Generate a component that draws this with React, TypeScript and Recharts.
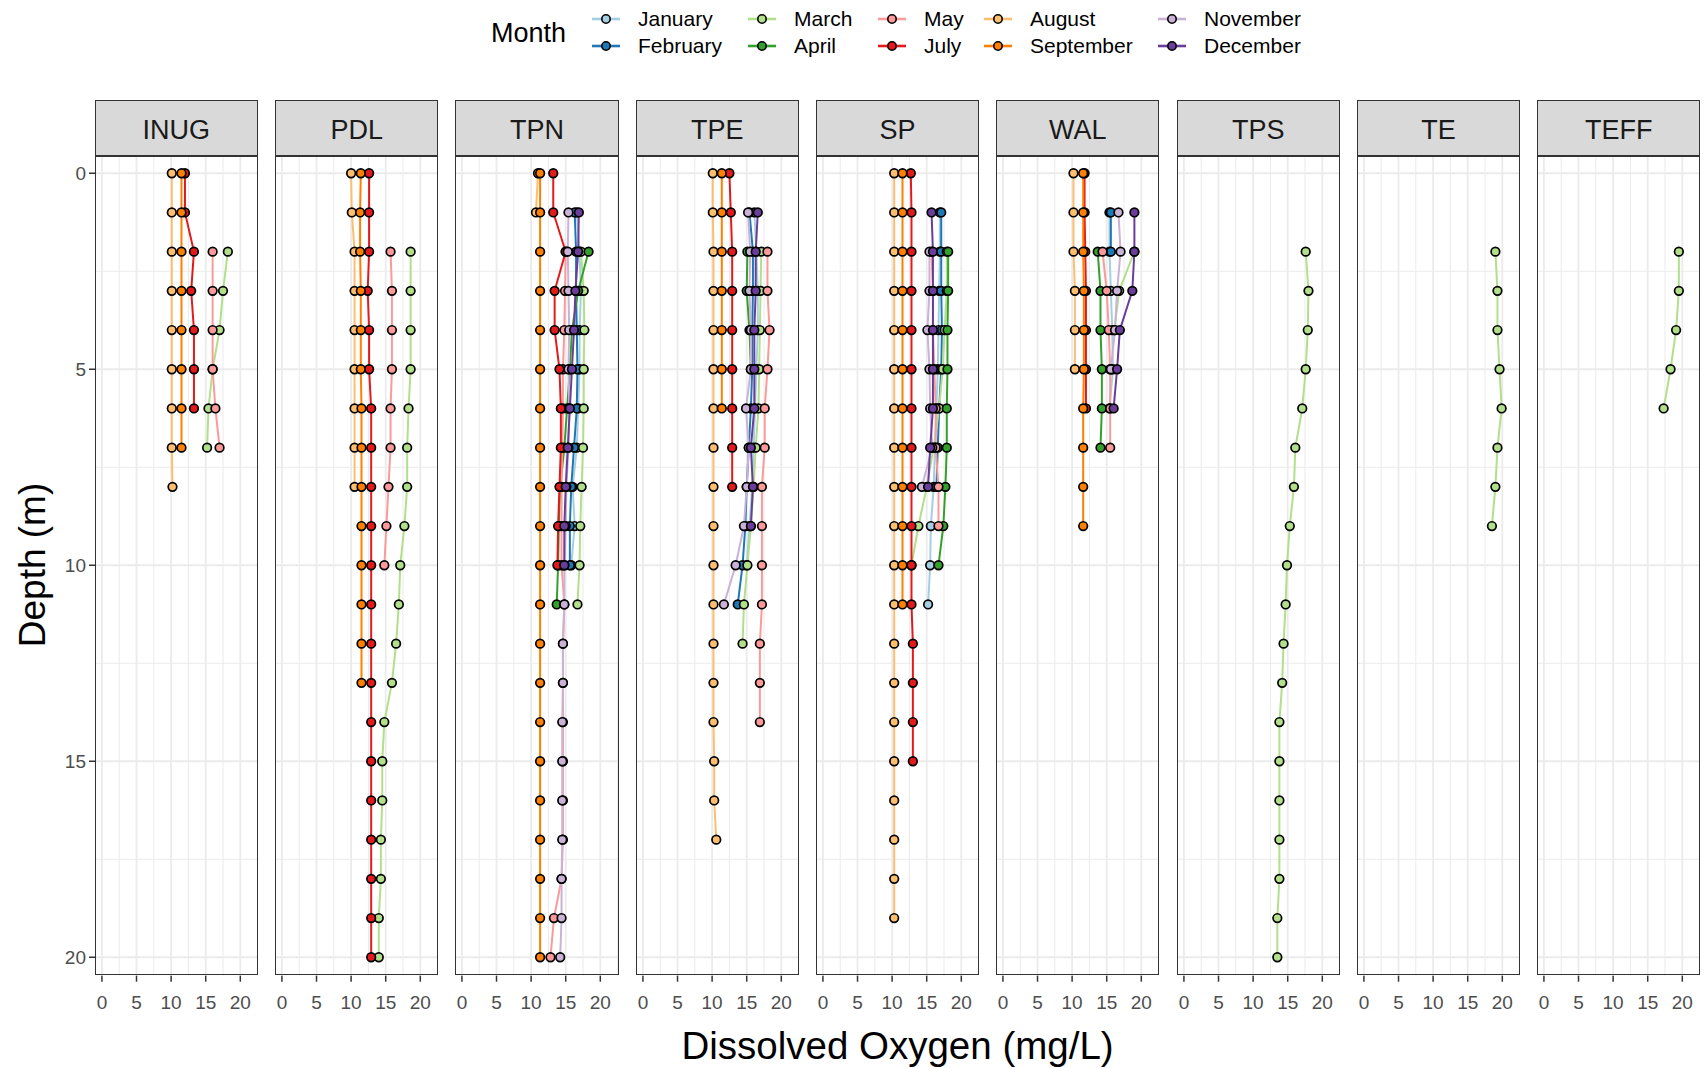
import React from "react";
import { ScatterChart, Scatter, XAxis, YAxis, ReferenceLine } from "recharts";

type Profile = { month: string; top: number; oxygen: number[] };

// months shown in the legend, in plotting order
const MONTHS = ["January", "February", "March", "April", "May", "July", "August", "September", "November", "December"];

const MONTH_COLORS: Record<string, string> = {
  January: "#A6CEE3",
  February: "#1F78B4",
  March: "#B2DF8A",
  April: "#33A02C",
  May: "#FB9A99",
  July: "#E31A1C",
  August: "#FDBF6F",
  September: "#FF7F00",
  November: "#CAB2D6",
  December: "#6A3D9A",
};

// dissolved oxygen (mg/L) per 1 m step, starting at depth `top`
const INUG: Profile[] = [
  { month: "March", top: 2, oxygen: [18.2, 17.5, 17.0, 16.0, 15.4, 15.2] },
  { month: "May", top: 2, oxygen: [16.0, 16.0, 16.0, 16.0, 16.4, 17.0] },
  { month: "July", top: 0, oxygen: [12.0, 12.0, 13.3, 12.9, 13.3, 13.3, 13.3] },
  { month: "August", top: 0, oxygen: [10.1, 10.1, 10.1, 10.1, 10.1, 10.1, 10.1, 10.1, 10.2] },
  { month: "September", top: 0, oxygen: [11.5, 11.5, 11.5, 11.5, 11.5, 11.5, 11.5, 11.5] },
];

const PDL: Profile[] = [
  { month: "March", top: 2, oxygen: [18.6, 18.6, 18.6, 18.6, 18.3, 18.1, 18.1, 17.7, 17.1, 16.9, 16.5, 15.9, 14.8, 14.5, 14.5, 14.3, 14.3, 14.0, 14.0] },
  { month: "May", top: 2, oxygen: [15.7, 15.9, 15.9, 15.9, 15.7, 15.7, 15.4, 15.1, 14.8] },
  { month: "July", top: 0, oxygen: [12.6, 12.6, 12.6, 12.4, 12.6, 12.6, 12.9, 12.9, 12.9, 12.9, 12.9, 12.9, 12.9, 12.9, 12.9, 12.9, 12.9, 12.9, 12.9, 12.9, 12.9] },
  { month: "August", top: 0, oxygen: [10.0, 10.1, 10.5, 10.5, 10.5, 10.5, 10.5, 10.5, 10.5] },
  { month: "September", top: 0, oxygen: [11.4, 11.3, 11.3, 11.4, 11.4, 11.4, 11.5, 11.5, 11.5, 11.5, 11.5, 11.5, 11.5, 11.5] },
];

const TPN: Profile[] = [
  { month: "January", top: 1, oxygen: [16.6, 17.0, 17.2, 17.0, 17.0, 16.8, 16.6, 16.0, 16.3, 15.8] },
  { month: "February", top: 1, oxygen: [16.3, 16.5, 16.5, 16.6, 16.7, 16.6, 16.2, 15.8, 15.6, 15.6] },
  { month: "March", top: 2, oxygen: [17.2, 17.6, 17.7, 17.6, 17.6, 17.5, 17.3, 17.1, 17.0, 16.7] },
  { month: "April", top: 2, oxygen: [18.3, 16.8, 15.9, 15.6, 15.2, 14.8, 14.2, 14.0, 13.9, 13.7] },
  { month: "May", top: 2, oxygen: [15.0, 14.9, 14.8, 14.6, 14.6, 14.5, 14.4, 14.4, 14.4, 14.8, 14.6, 14.6, 14.6, 14.6, 14.6, 14.6, 14.4, 13.3, 12.8] },
  { month: "July", top: 0, oxygen: [13.2, 13.2, 15.0, 13.4, 13.4, 14.1, 14.3, 14.3, 14.1, 13.9, 13.8] },
  { month: "August", top: 0, oxygen: [11.0, 10.7] },
  { month: "September", top: 0, oxygen: [11.3, 11.3, 11.3, 11.3, 11.3, 11.3, 11.3, 11.3, 11.3, 11.3, 11.3, 11.3, 11.3, 11.3, 11.3, 11.3, 11.3, 11.3, 11.3, 11.3, 11.3] },
  { month: "November", top: 1, oxygen: [15.4, 15.3, 15.4, 15.5, 15.4, 15.5, 15.4, 15.1, 15.0, 14.8, 14.8, 14.6, 14.6, 14.5, 14.5, 14.5, 14.5, 14.4, 14.4, 14.2] },
  { month: "December", top: 1, oxygen: [16.9, 16.8, 16.4, 16.2, 15.9, 15.6, 15.3, 15.0, 14.8, 14.8] },
];

const TPE: Profile[] = [
  { month: "January", top: 1, oxygen: [16.1, 16.4, 16.6, 16.6, 16.4, 16.2, 16.0, 15.8, 15.4, 15.0] },
  { month: "February", top: 1, oxygen: [15.4, 15.9, 15.9, 15.8, 15.8, 15.6, 15.3, 15.0, 14.8, 14.4, 13.7] },
  { month: "March", top: 2, oxygen: [17.1, 17.0, 16.9, 16.8, 16.7, 16.3, 16.0, 15.6, 15.1, 14.6, 14.4] },
  { month: "April", top: 2, oxygen: [15.1, 15.0, 15.4, 15.6] },
  { month: "May", top: 2, oxygen: [18.0, 18.0, 18.3, 18.0, 17.6, 17.6, 17.2, 17.2, 17.2, 17.2, 16.9, 16.9, 16.9] },
  { month: "July", top: 0, oxygen: [12.5, 12.7, 12.9, 12.9, 12.9, 12.9, 12.9, 12.9, 12.9] },
  { month: "August", top: 0, oxygen: [10.1, 10.1, 10.2, 10.2, 10.2, 10.2, 10.2, 10.2, 10.2, 10.2, 10.2, 10.2, 10.2, 10.2, 10.2, 10.3, 10.3, 10.6] },
  { month: "September", top: 0, oxygen: [11.4, 11.4, 11.4, 11.4, 11.4, 11.4, 11.4] },
  { month: "November", top: 1, oxygen: [15.2, 15.5, 15.4, 15.6, 15.6, 14.9, 15.3, 15.0, 14.6, 13.4, 11.7] },
  { month: "December", top: 1, oxygen: [16.6, 16.3, 16.3, 16.1, 16.1, 16.1, 15.6, 15.9, 15.6] },
];

const SP: Profile[] = [
  { month: "January", top: 1, oxygen: [16.9, 16.9, 16.8, 16.7, 16.6, 16.4, 16.2, 16.0, 15.6, 15.5, 15.2] },
  { month: "February", top: 1, oxygen: [17.1, 17.1, 17.1, 17.2, 17.1, 16.8, 16.6, 16.4] },
  { month: "March", top: 2, oxygen: [17.9, 17.9, 17.6, 17.3, 16.8, 16.0, 15.0, 13.8, 12.8] },
  { month: "April", top: 2, oxygen: [18.1, 18.1, 18.0, 18.0, 17.9, 17.9, 17.7, 17.4, 16.7] },
  { month: "May", top: 2, oxygen: [15.7, 15.9, 15.9, 16.1, 16.3, 16.3, 16.7, 16.7] },
  { month: "July", top: 0, oxygen: [12.7, 12.8, 12.8, 12.8, 12.8, 12.8, 12.8, 12.8, 12.8, 12.8, 12.8, 12.8, 13.0, 13.0, 13.0, 13.0] },
  { month: "August", top: 0, oxygen: [10.3, 10.3, 10.3, 10.3, 10.3, 10.3, 10.3, 10.3, 10.3, 10.3, 10.3, 10.3, 10.3, 10.3, 10.3, 10.3, 10.3, 10.3, 10.3, 10.3] },
  { month: "September", top: 0, oxygen: [11.5, 11.5, 11.5, 11.5, 11.5, 11.5, 11.5, 11.5, 11.5, 11.5, 11.5, 11.5] },
  { month: "November", top: 2, oxygen: [15.4, 15.4, 15.1, 15.4, 15.5, 15.8, 14.3] },
  { month: "December", top: 1, oxygen: [15.7, 15.9, 15.9, 15.9, 15.9, 15.9, 15.5, 15.2] },
];

const WAL: Profile[] = [
  { month: "January", top: 1, oxygen: [15.4, 15.4, 15.6, 15.8, 15.9, 15.4] },
  { month: "February", top: 1, oxygen: [15.6, 15.6] },
  { month: "March", top: 2, oxygen: [19.0, 16.8, 16.1] },
  { month: "April", top: 2, oxygen: [13.7, 14.1, 14.1, 14.3, 14.3, 14.1] },
  { month: "May", top: 2, oxygen: [14.4, 15.0, 15.3, 15.5, 15.5, 15.5] },
  { month: "July", top: 0, oxygen: [11.8, 11.8, 11.9, 12.0, 12.0, 12.0, 12.0] },
  { month: "August", top: 0, oxygen: [10.2, 10.2, 10.2, 10.4, 10.4, 10.4] },
  { month: "September", top: 0, oxygen: [11.6, 11.6, 11.6, 11.7, 11.7, 11.7, 11.6, 11.6, 11.6, 11.6] },
  { month: "November", top: 1, oxygen: [16.7, 17.0, 16.5, 16.2, 15.6] },
  { month: "December", top: 1, oxygen: [19.0, 19.0, 18.7, 16.9, 16.5, 16.0] },
];

const TPS: Profile[] = [
  { month: "March", top: 2, oxygen: [17.6, 18.0, 17.9, 17.6, 17.1, 16.1, 15.9, 15.3, 14.9, 14.7, 14.4, 14.2, 13.8, 13.8, 13.8, 13.8, 13.8, 13.5, 13.5] },
];

const TE: Profile[] = [
  { month: "March", top: 2, oxygen: [19.0, 19.3, 19.3, 19.6, 19.9, 19.3, 19.0, 18.5] },
];

const TEFF: Profile[] = [
  { month: "March", top: 2, oxygen: [19.5, 19.5, 19.1, 18.3, 17.3] },
];

const SITE_NAMES = ["INUG", "PDL", "TPN", "TPE", "SP", "WAL", "TPS", "TE", "TEFF"];
const SITE_PROFILES = [INUG, PDL, TPN, TPE, SP, WAL, TPS, TE, TEFF];

const X_TICKS = [0, 5, 10, 15, 20];
const X_MINOR = [2.5, 7.5, 12.5, 17.5, 22.5];
const Y_TICKS = [0, 5, 10, 15, 20];
const Y_MINOR = [2.5, 7.5, 12.5, 17.5];

const X_DOMAIN = [-1.0, 22.6];
const Y_DOMAIN = [-0.44, 20.47];

const FONT = '"Liberation Sans", Arial, sans-serif';
const PANEL_LEFT = 94.7;
const PANEL_STEP = 180.3;
const PANEL_W = 163.3;
const STRIP_TOP = 100;
const PLOT_TOP = 155.7;
const PLOT_H = 819.7;
const Y_AXIS_W = 60;

const toPoints = (p: Profile) => p.oxygen.map((v, k) => ({ depth: p.top + k, oxygen: v }));

const NoDot = () => <g />;

const makeDot = (color: string) => (props: any) => (
  <circle cx={props.cx} cy={props.cy} r={4.3} fill={color} stroke="#000" strokeWidth={1.7} />
);

const Panel = ({ index }: { index: number }) => {
  const profiles = SITE_PROFILES[index];
  const yw = index === 0 ? Y_AXIS_W : 0;
  const left = PANEL_LEFT + index * PANEL_STEP;
  return (
    <>
      <div
        style={{
          position: "absolute",
          left,
          top: STRIP_TOP,
          width: PANEL_W,
          height: PLOT_TOP - STRIP_TOP,
          boxSizing: "border-box",
          background: "#D9D9D9",
          border: "1.5px solid #333",
          display: "flex",
          alignItems: "center",
          justifyContent: "center",
          paddingTop: 6,
          fontSize: 27,
          color: "#1A1A1A",
        }}
      >
        {SITE_NAMES[index]}
      </div>
      <div style={{ position: "absolute", left: left - yw, top: PLOT_TOP }}>
        <ScatterChart width={PANEL_W + yw} height={PLOT_H + 50} margin={{ top: 0, right: 0, bottom: 0, left: 0 }}>
          <XAxis
            type="number"
            dataKey="oxygen"
            domain={X_DOMAIN}
            allowDataOverflow
            ticks={X_TICKS}
            interval={0}
            axisLine={false}
            tickSize={6}
            tickMargin={14}
            tickLine={{ stroke: "#333", strokeWidth: 1.5 }}
            tick={{ fill: "#4D4D4D", fontSize: 19, fontFamily: FONT }}
            height={50}
          />
          <YAxis
            type="number"
            dataKey="depth"
            domain={Y_DOMAIN}
            reversed
            allowDataOverflow
            ticks={Y_TICKS}
            interval={0}
            hide={index !== 0}
            width={yw}
            axisLine={false}
            tickSize={6}
            tickMargin={3}
            tickLine={{ stroke: "#333", strokeWidth: 1.5 }}
            tick={{ fill: "#4D4D4D", fontSize: 19, fontFamily: FONT }}
          />
          {Y_MINOR.map((v) => (
            <ReferenceLine key={"ym" + v} y={v} stroke="#EBEBEB" strokeWidth={1} />
          ))}
          {X_MINOR.map((v) => (
            <ReferenceLine key={"xm" + v} x={v} stroke="#EBEBEB" strokeWidth={1} />
          ))}
          {Y_TICKS.map((v) => (
            <ReferenceLine key={"yM" + v} y={v} stroke="#EBEBEB" strokeWidth={1.8} />
          ))}
          {X_TICKS.map((v) => (
            <ReferenceLine key={"xM" + v} x={v} stroke="#EBEBEB" strokeWidth={1.8} />
          ))}
          {profiles.map((p) => (
            <Scatter
              key={"l" + p.month}
              data={toPoints(p)}
              fill={MONTH_COLORS[p.month]}
              line={{ stroke: MONTH_COLORS[p.month], strokeWidth: 2 }}
              shape={NoDot}
              isAnimationActive={false}
            />
          ))}
          {profiles.map((p) => (
            <Scatter
              key={"p" + p.month}
              data={toPoints(p)}
              fill={MONTH_COLORS[p.month]}
              shape={makeDot(MONTH_COLORS[p.month])}
              isAnimationActive={false}
            />
          ))}
        </ScatterChart>
      </div>
      <div
        style={{
          position: "absolute",
          left,
          top: PLOT_TOP,
          width: PANEL_W,
          height: PLOT_H,
          boxSizing: "border-box",
          border: "1.5px solid #333",
          pointerEvents: "none",
        }}
      />
    </>
  );
};

// legend: two rows, filled column by column
const LEGEND_KEY_X = [606, 762, 892, 998, 1172];
const LEGEND_ROW_Y = [18.5, 45.7];

const Legend = () => (
  <>
    <div style={{ position: "absolute", left: 491, top: 32.7, transform: "translateY(-50%)", fontSize: 27 }}>Month</div>
    {MONTHS.map((m, i) => {
      const col = Math.floor(i / 2);
      const row = i % 2;
      const cx = LEGEND_KEY_X[col];
      const cy = LEGEND_ROW_Y[row];
      return (
        <React.Fragment key={m}>
          <svg style={{ position: "absolute", left: cx - 15, top: cy - 8 }} width={30} height={16}>
            <line x1={1} y1={8} x2={29} y2={8} stroke={MONTH_COLORS[m]} strokeWidth={2.6} />
            <circle cx={15} cy={8} r={4.2} fill={MONTH_COLORS[m]} stroke="#000" strokeWidth={1.6} />
          </svg>
          <div style={{ position: "absolute", left: cx + 32, top: cy, transform: "translateY(-50%)", fontSize: 21, whiteSpace: "nowrap" }}>
            {m}
          </div>
        </React.Fragment>
      );
    })}
  </>
);

export default function App() {
  return (
    <div
      style={{
        position: "absolute",
        left: 0,
        top: 0,
        width: 1707,
        height: 1068,
        background: "#fff",
        fontFamily: FONT,
        color: "#000",
        overflow: "hidden",
      }}
    >
      <Legend />
      {SITE_NAMES.map((s, i) => (
        <Panel key={s} index={i} />
      ))}
      <div
        style={{
          position: "absolute",
          left: PANEL_LEFT,
          width: PANEL_STEP * 8 + PANEL_W,
          top: 1046,
          transform: "translateY(-50%)",
          textAlign: "center",
          fontSize: 38.5,
        }}
      >
        Dissolved Oxygen (mg/L)
      </div>
      <div
        style={{
          position: "absolute",
          left: 33,
          top: 565,
          transform: "translate(-50%, -50%) rotate(-90deg)",
          fontSize: 37,
          whiteSpace: "nowrap",
        }}
      >
        Depth (m)
      </div>
    </div>
  );
}
